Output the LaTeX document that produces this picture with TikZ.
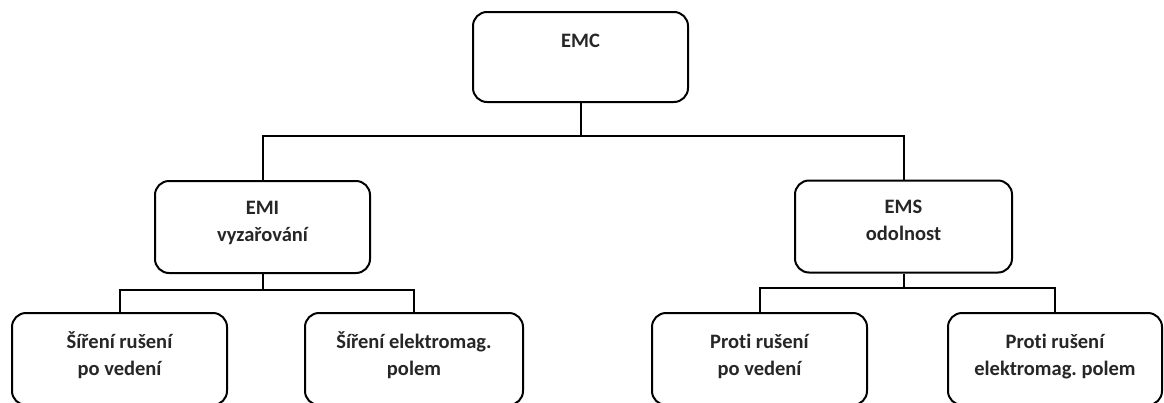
\documentclass[tikz,border=0pt]{standalone}
\usepackage{fontspec}
\setmainfont{Carlito}[Ligatures=NoCommon]
\frenchspacing
\usetikzlibrary{calc}
\begin{document}
\begin{tikzpicture}[x=1pt,y=-1pt,
  box/.style={draw=black, line width=2pt, rounded corners=14pt, minimum width=215pt, minimum height=92pt, inner sep=0pt},
  lbl/.style={font=\bfseries\fontsize{20.5}{27}\selectfont, align=center, inner sep=0pt, anchor=base, text=black!85},
  wire/.style={draw=black, line width=2pt}]
\clip (0,0) rectangle (1164,402);
\fill[white] (0,0) rectangle (1164,402);
% boxes
\node[box, minimum height=90pt] (emc) at (580.5,57) {};
\node[box] (emi) at (262.5,227) {};
\node[box, minimum width=217pt] (ems) at (903.5,226.5) {};
\node[box] (b1) at (119.5,359) {};
\node[box, minimum width=218pt] (b2) at (414,359) {};
\node[box] (b3) at (759.5,359) {};
\node[box, minimum width=214pt] (b4) at (1055,359) {};
% labels
\node[lbl] (emct) at ($(emc.north)+(0,36)$) {EMC};
\node[lbl] (emit) at ($(emi.north)+(0,61)$) {EMI\\vyzařování};
\node[lbl] (emst) at ($(ems.north)+(0,61)$) {EMS\\odolnost};
\node[lbl] (b1t) at ($(b1.north)+(0,63)$) {Šíření rušení\\po vedení};
\node[lbl] (b2t) at ($(b2.north)+(0,63)$) {Šíření elektromag.\\polem};
\node[lbl] (b3t) at ($(b3.north)+(0,63)$) {Proti rušení\\po vedení};
\node[lbl] (b4t) at ($(b4.north)+(0,63)$) {Proti rušení\\elektromag. polem};
% connectors
\coordinate (j0) at (580.5,136);
\coordinate (j1) at (262.5,290);
\coordinate (j2) at (903.5,288);
\draw[wire] (emc.south) -- (j0);
\draw[wire] (emi.north) |- (j0) -| (ems.north);
\draw[wire] (emi.south) -- (j1);
\draw[wire] (b1.north) |- (j1) -| (b2.north);
\draw[wire] (ems.south) -- (j2);
\draw[wire] (b3.north) |- (j2) -| (b4.north);
\end{tikzpicture}
\end{document}
